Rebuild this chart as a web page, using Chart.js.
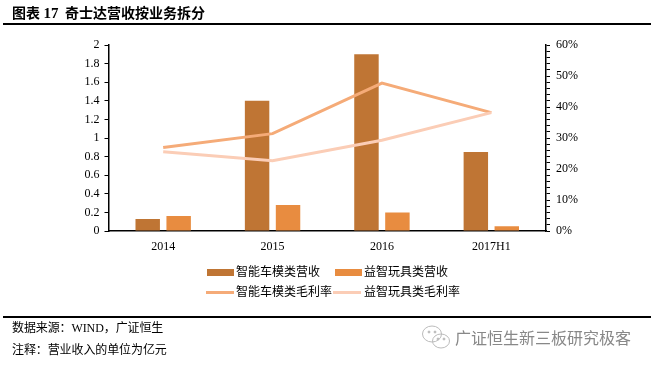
<!DOCTYPE html>
<html>
<head>
<meta charset="utf-8">
<script src="https://cdn.jsdelivr.net/npm/chart.js@4/dist/chart.umd.js"></script>
<style>
  html, body { margin: 0; padding: 0; background: #fff; }
  body { width: 651px; height: 366px; position: relative; overflow: hidden;
         font-family: "Liberation Serif", "Noto Sans CJK SC", serif; color: #000; }
  canvas { position: absolute; left: 0; top: 0; }
  .txt { position: absolute; white-space: nowrap; font-size: 12px; line-height: 16px; }
  .rule { position: absolute; left: 3px; right: 0; height: 2px; background: #000; }
  .swatch { position: absolute; }
</style>
</head>
<body>
<canvas id="chart" width="651" height="366"></canvas>
<div class="txt" style="left:12px;top:5px;font-size:14px;font-weight:bold;line-height:17px">图表 <span style="font-size:15px;margin-right:3px">17</span> 奇士达营收按业务拆分</div>
<div class="rule" style="top:23px"></div>
<div id="legend"></div>
<div class="rule" style="top:316px"></div>
<div class="txt" style="left:12px;top:320px;letter-spacing:-0.1px">数据来源：WIND，广证恒生</div>
<div class="txt" style="left:12px;top:342px;letter-spacing:-0.1px">注释：营业收入的单位为亿元</div>
<svg style="position:absolute;left:421px;top:324px" width="30" height="27" viewBox="0 0 30 27" fill="none" stroke="#bbb" stroke-width="1">
  <ellipse cx="11" cy="10" rx="9.5" ry="8"/>
  <ellipse cx="20" cy="17" rx="8.5" ry="7"/>
  <circle cx="8" cy="8" r="1" fill="#bbb"/>
  <circle cx="14" cy="8" r="1" fill="#bbb"/>
  <circle cx="17" cy="15" r="1" fill="#bbb"/>
  <circle cx="23" cy="15" r="1" fill="#bbb"/>
</svg>
<div class="txt" style="left:455px;top:328px;font-size:16px;line-height:19px;color:#888;font-family:'Noto Sans CJK SC',sans-serif">广证恒生新三板研究极客</div>
<script>
const categories = ['2014', '2015', '2016', '2017H1'];
const carRevenue = [0.13, 1.4, 1.9, 0.85];
const toyRevenue = [0.16, 0.28, 0.2, 0.05];
const carMargin = [26.9, 31.4, 47.7, 38.2];
const toyMargin = [25.6, 22.7, 29.3, 38.2];

const carBarColor = '#BF7534';
const toyBarColor = '#E88C40';
const carLineColor = '#F5AB78';
const toyLineColor = '#FBCDB6';
const tickFont = { family: '"Liberation Serif", serif', size: 12 };

const chart = new Chart(document.getElementById('chart'), {
  type: 'bar',
  data: {
    labels: categories,
    datasets: [
      { type: 'line', label: '智能车模类毛利率', data: carMargin, yAxisID: 'y1', borderColor: carLineColor,
        borderWidth: 3, pointRadius: 0, tension: 0, fill: false, order: 1 },
      { type: 'line', label: '益智玩具类毛利率', data: toyMargin, yAxisID: 'y1', borderColor: toyLineColor,
        borderWidth: 3, pointRadius: 0, tension: 0, fill: false, order: 0 },
      { label: '智能车模类营收', data: carRevenue, yAxisID: 'y', backgroundColor: carBarColor,
        categoryPercentage: 0.566, barPercentage: 0.79, order: 2 },
      { label: '益智玩具类营收', data: toyRevenue, yAxisID: 'y', backgroundColor: toyBarColor,
        categoryPercentage: 0.566, barPercentage: 0.79, order: 2 },
    ],
  },
  options: {
    responsive: false,
    animation: false,
    layout: { padding: { top: 45, left: 0, right: 0, bottom: 0 } },
    plugins: { legend: { display: false }, tooltip: { enabled: false } },
    scales: {
      x: {
        grid: { display: false, drawTicks: false },
        border: { color: '#000', width: 1.5 },
        ticks: { color: '#000', font: tickFont, padding: 9, maxRotation: 0 },
        afterFit: (scale) => { scale.height = 135; },
      },
      y: {
        position: 'left',
        min: 0,
        max: 2,
        grid: { drawOnChartArea: false, color: '#000', tickLength: 4 },
        border: { color: '#000', width: 1.5 },
        ticks: { color: '#000', font: tickFont, stepSize: 0.2, padding: 5,
          callback: (value) => String(Number(value.toFixed(1))) },
        afterFit: (scale) => { scale.width = 108.5; },
      },
      y1: {
        position: 'right',
        min: 0,
        max: 60,
        grid: { drawOnChartArea: false, color: '#000', tickLength: 4 },
        border: { color: '#000', width: 1.5 },
        ticks: { color: '#000', font: tickFont, stepSize: 2, padding: 6, autoSkip: false, maxRotation: 0,
          callback: (value) => (value % 10 === 0 ? value + '%' : '') },
        afterFit: (scale) => { scale.width = 105; },
      },
    },
  },
});

// legend is laid out by hand: two rows, two columns, like the original
const legendSlots = [
  { index: 2, x: 207, y: 272, textX: 236 },
  { index: 3, x: 335, y: 272, textX: 364 },
  { index: 0, x: 206, y: 292, textX: 236 },
  { index: 1, x: 333, y: 292, textX: 364 },
];
const legendBox = document.getElementById('legend');
legendSlots.forEach((slot) => {
  const ds = chart.data.datasets[slot.index];
  const isLine = ds.type === 'line';
  const swatch = document.createElement('div');
  swatch.className = 'swatch';
  swatch.style.cssText = isLine
    ? `left:${slot.x}px;top:${slot.y - 1.5}px;width:28px;height:3px;background:${ds.borderColor}`
    : `left:${slot.x}px;top:${slot.y - 3.5}px;width:27px;height:7px;background:${ds.backgroundColor}`;
  legendBox.appendChild(swatch);
  const label = document.createElement('div');
  label.className = 'txt';
  label.style.left = slot.textX + 'px';
  label.style.top = (slot.y - 8) + 'px';
  label.textContent = ds.label;
  legendBox.appendChild(label);
});
</script>
</body>
</html>
